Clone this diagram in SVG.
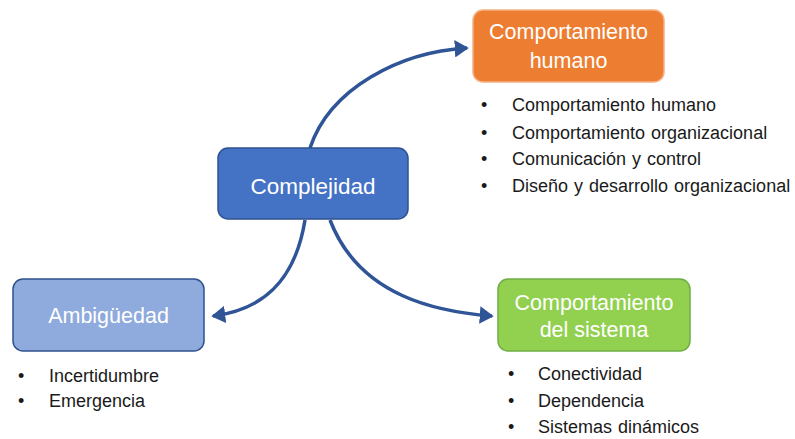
<svg xmlns="http://www.w3.org/2000/svg" width="795" height="439" viewBox="0 0 795 439">
<style>
.lbl{font-family:"Liberation Sans",Arial,sans-serif;fill:#fff;text-anchor:middle;font-size:21.5px}
.bt{font-family:"Liberation Sans",Arial,sans-serif;font-size:18px;fill:#1a1a1a;word-spacing:1px}
.conn{fill:none;stroke:#2F5597;stroke-width:3.5;marker-end:url(#ah)}
</style>
<defs>
<marker id="ah" markerWidth="5" markerHeight="5" refX="3.5" refY="2.5" orient="auto" markerUnits="strokeWidth">
<path d="M0,0 L4,2.5 L0,5 Z" fill="#2F5597"/>
</marker>
</defs>
<rect width="795" height="439" fill="#fff"/>
<g id="connectors">
<path class="conn" d="M310,148 C330,88 400,52 467,48"/>
<path class="conn" d="M305,220 C295,282 262,310 213,316"/>
<path class="conn" d="M330,220 C360,298 440,312 492,316"/>
</g>
<g id="complejidad">
<rect x="218" y="148" width="190" height="71" rx="10" fill="#4472C4" stroke="#2F528F" stroke-width="1.5"/>
<text class="lbl" x="313" y="194" style="font-size:22.5px">Complejidad</text>
</g>
<g id="comp-humano">
<rect x="473" y="10" width="191" height="72" rx="10" fill="#ED7D31" stroke="#F4B183" stroke-width="1.5"/>
<text class="lbl" x="568.5" y="39">Comportamiento</text>
<text class="lbl" x="568.5" y="68">humano</text>
</g>
<g id="list-humano" xml:space="preserve">
<text class="bt" x="481" y="111">•</text><text class="bt" x="512" y="111">Comportamiento  humano</text>
<text class="bt" x="481" y="139">•</text><text class="bt" x="512" y="139">Comportamiento  organizacional</text>
<text class="bt" x="481" y="165">•</text><text class="bt" x="512" y="165">Comunicación y control</text>
<text class="bt" x="481" y="192">•</text><text class="bt" x="512" y="192">Diseño y desarrollo  organizacional</text>
</g>
<g id="ambiguedad">
<rect x="13" y="279" width="191" height="72" rx="10" fill="#8FAADC" stroke="#2F528F" stroke-width="1.5"/>
<text class="lbl" x="108.5" y="323">Ambigüedad</text>
</g>
<g id="list-ambiguedad">
<text class="bt" x="18" y="382">•</text><text class="bt" x="49" y="382">Incertidumbre</text>
<text class="bt" x="18" y="407">•</text><text class="bt" x="49" y="407">Emergencia</text>
</g>
<g id="comp-sistema">
<rect x="498" y="279" width="192" height="72" rx="10" fill="#92D050" stroke="#70AD47" stroke-width="1.5"/>
<text class="lbl" x="594" y="310">Comportamiento</text>
<text class="lbl" x="594" y="337">del sistema</text>
</g>
<g id="list-sistema" xml:space="preserve">
<text class="bt" x="508" y="380">•</text><text class="bt" x="538" y="380">Conectividad</text>
<text class="bt" x="508" y="407">•</text><text class="bt" x="538" y="407">Dependencia</text>
<text class="bt" x="508" y="433">•</text><text class="bt" x="538" y="433">Sistemas  dinámicos</text>
</g>
</svg>
